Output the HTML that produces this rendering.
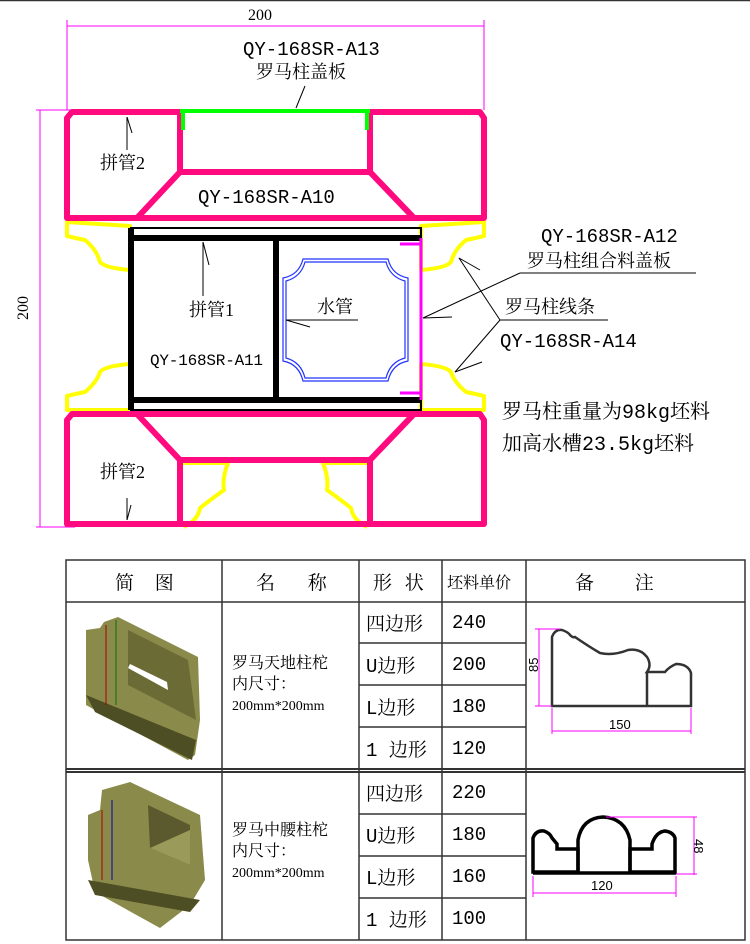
<!DOCTYPE html>
<html><head><meta charset="utf-8"><style>
html,body{margin:0;padding:0;background:#fff;}
svg{display:block;}
text{font-family:"Liberation Serif","Noto Serif CJK SC","Noto Sans CJK SC",serif;fill:#000;}
.m{font-family:"Liberation Mono","Noto Serif CJK SC",monospace;}
</style></head><body>
<svg width="750" height="944" viewBox="0 0 750 944" xmlns="http://www.w3.org/2000/svg">
<line x1="0" y1="0.5" x2="750" y2="0.5" stroke="#333" stroke-width="1.5"/>
<g stroke="#f0f" stroke-width="1" fill="none">
<line x1="67" y1="26" x2="484" y2="26"/>
<line x1="67" y1="20" x2="67" y2="110"/>
<line x1="484" y1="20" x2="484" y2="110"/>
<line x1="40" y1="110" x2="40" y2="527"/>
<line x1="36" y1="110" x2="75" y2="110"/>
<line x1="36" y1="527" x2="75" y2="527"/>
</g>
<text x="248" y="20" font-size="16">200</text>
<text x="28" y="320" font-size="16" transform="rotate(-90 28 320)">200</text>
<text x="243" y="55" font-size="19" class="m">QY-168SR-A13</text>
<text x="256" y="78" font-size="18">罗马柱盖板</text>
<line x1="305" y1="86" x2="296" y2="108" stroke="#000" stroke-width="1"/>
<g stroke="#ff0" stroke-width="4" fill="none" stroke-linejoin="round">
<path d="M67 222 L67 236 Q75 238 85 240 Q97 250 100 262 Q105 268 130 270 L130 226 Z"/>
<path d="M67 410 L67 396 Q75 394 85 392 Q97 382 100 372 Q105 366 130 364 L130 410 Z"/>
<path d="M484 222 L484 236 Q476 238 466 240 Q454 250 451 262 Q446 268 421 270 L421 226 Z"/>
<path d="M484 410 L484 396 Q476 394 466 392 Q454 382 451 372 Q446 366 421 364 L421 410 Z"/>
<path d="M183 463 L228 463 Q222 478 224 490 Q210 500 200 508 Q198 520 184 527"/>
<path d="M368 463 L323 463 Q329 478 327 490 Q341 500 351 508 Q353 520 367 527"/>
</g>
<g stroke="#ff0a7f" stroke-width="6" fill="none" stroke-linejoin="round">
<path d="M72 112 L480 112 L484 118 L484 218 L67 218 L67 118 Z"/>
<path d="M180 112 L180 172 L370 172 L370 112"/>
<path d="M180 172 L137 218 M370 172 L414 218"/>
<path d="M72 414 L480 414 L484 420 L484 524 L67 524 L67 420 Z"/>
<path d="M180 524 L180 460 L370 460 L370 524"/>
<path d="M180 460 L137 414 M370 460 L414 414"/>
</g>
<rect x="183" y="113" width="184" height="56" fill="#fff"/>
<path d="M180 111 L370 111 M183 111 L183 130 M367 111 L367 130" stroke="#00ff00" stroke-width="4" fill="none"/>
<g stroke="#000" fill="none">
<rect x="131" y="228" width="290" height="182" stroke-width="2"/>
<line x1="131" y1="238" x2="421" y2="238" stroke-width="6"/>
<line x1="131" y1="400" x2="421" y2="400" stroke-width="6"/>
<line x1="131" y1="228" x2="131" y2="410" stroke-width="6"/>
<line x1="276" y1="238" x2="276" y2="400" stroke-width="6"/>
</g>
<line x1="421" y1="238" x2="421" y2="400" stroke="#f0f" stroke-width="3"/>
<line x1="400" y1="244" x2="421" y2="244" stroke="#f0f" stroke-width="3"/>
<line x1="400" y1="393" x2="421" y2="393" stroke="#f0f" stroke-width="3"/>
<g stroke="#23f" fill="none" stroke-width="1.2">
<path d="M303 259 L388 259 Q392 275 408 278 L408 361 Q392 364 388 381 L303 381 Q299 364 283 361 L283 278 Q299 275 303 259 Z"/>
<path d="M305 262 L386 262 Q390 277 405 281 L405 358 Q390 362 386 378 L305 378 Q301 362 286 358 L286 281 Q301 277 305 262 Z"/>
</g>
<g stroke="#000" stroke-width="1" fill="none">
<line x1="127" y1="117" x2="127" y2="150"/><line x1="127" y1="117" x2="132" y2="133"/>
<line x1="127" y1="498" x2="127" y2="520"/><line x1="127" y1="520" x2="131" y2="505"/>
<line x1="203" y1="242" x2="203" y2="296"/><line x1="203" y1="242" x2="209" y2="265"/>
<line x1="286" y1="320" x2="358" y2="320"/><line x1="286" y1="320" x2="310" y2="327"/>
<line x1="423" y1="318" x2="452" y2="317"/>
<line x1="423" y1="318" x2="520" y2="273"/><line x1="520" y1="273" x2="696" y2="273"/>
<line x1="500" y1="320" x2="608" y2="320"/>
<line x1="500" y1="320" x2="459" y2="258"/><line x1="459" y1="258" x2="480" y2="270"/>
<line x1="500" y1="320" x2="455" y2="372"/><line x1="455" y1="372" x2="482" y2="362"/>
</g>
<text x="100" y="169" font-size="18">拼管2</text>
<text x="100" y="478" font-size="18">拼管2</text>
<text x="198" y="203" font-size="19" class="m">QY-168SR-A10</text>
<text x="189" y="316" font-size="18">拼管1</text>
<text x="150" y="365" font-size="16" class="m" textLength="113">QY-168SR-A11</text>
<text x="317" y="313" font-size="18">水管</text>
<text x="541" y="242" font-size="19" class="m">QY-168SR-A12</text>
<text x="527" y="267" font-size="18">罗马柱组合料盖板</text>
<text x="505" y="313" font-size="18">罗马柱线条</text>
<text x="500" y="347" font-size="19" class="m">QY-168SR-A14</text>
<text x="502" y="418" font-size="20">罗马柱重量为<tspan class="m">98kg</tspan>坯料</text>
<text x="502" y="450" font-size="20">加高水槽<tspan class="m">23.5kg</tspan>坯料</text>
<g stroke="#333" stroke-width="1.5" fill="none">
<rect x="66" y="560" width="679" height="380"/>
<line x1="66" y1="602" x2="745" y2="602"/>
<line x1="66" y1="769" x2="745" y2="769" stroke-width="2"/>
<line x1="66" y1="772" x2="745" y2="772" stroke-width="2"/>
<line x1="222" y1="560" x2="222" y2="940"/>
<line x1="359" y1="560" x2="359" y2="940"/>
<line x1="442" y1="560" x2="442" y2="940"/>
<line x1="526" y1="560" x2="526" y2="940"/>
<line x1="359" y1="643" x2="526" y2="643"/>
<line x1="359" y1="685" x2="526" y2="685"/>
<line x1="359" y1="727" x2="526" y2="727"/>
<line x1="359" y1="814" x2="526" y2="814"/>
<line x1="359" y1="856" x2="526" y2="856"/>
<line x1="359" y1="898" x2="526" y2="898"/>
</g>
<g font-size="19">
<text x="115" y="589" letter-spacing="8">简 图</text>
<text x="256" y="589" letter-spacing="14">名 称</text>
<text x="373" y="589" letter-spacing="4">形 状</text>
<text x="447" y="588" font-size="16">坯料单价</text>
<text x="575" y="589" letter-spacing="18">备 注</text>
<text x="366" y="630">四边形</text><text x="452" y="628" class="m">240</text>
<text x="366" y="672"><tspan class="m">U</tspan>边形</text><text x="452" y="670" class="m">200</text>
<text x="366" y="714"><tspan class="m">L</tspan>边形</text><text x="452" y="712" class="m">180</text>
<text x="366" y="756"><tspan class="m">1 </tspan>边形</text><text x="452" y="754" class="m">120</text>
<text x="366" y="800">四边形</text><text x="452" y="798" class="m">220</text>
<text x="366" y="842"><tspan class="m">U</tspan>边形</text><text x="452" y="840" class="m">180</text>
<text x="366" y="884"><tspan class="m">L</tspan>边形</text><text x="452" y="882" class="m">160</text>
<text x="366" y="926"><tspan class="m">1 </tspan>边形</text><text x="452" y="924" class="m">100</text>
</g>
<g font-size="16">
<text x="232" y="668">罗马天地柱柁</text><text x="232" y="689">内尺寸：</text><text x="232" y="710" font-size="14">200mm*200mm</text>
<text x="232" y="835">罗马中腰柱柁</text><text x="232" y="856">内尺寸：</text><text x="232" y="877" font-size="14">200mm*200mm</text>
</g>
<g>
<polygon points="86,630 100,628 104,622 118,617 198,657 200,720 195,755 188,760 95,710 86,705" fill="#8a8a4a"/>
<polygon points="128,630 188,660 196,720 128,685" fill="#6b6b35"/>
<polygon points="128,668 168,690 167,682 130,664" fill="#fff"/>
<polygon points="86,695 196,740 192,760 95,712" fill="#4e4e24"/>
<line x1="106" y1="625" x2="106" y2="705" stroke="#a00" stroke-width="1"/>
<line x1="116" y1="620" x2="116" y2="705" stroke="#070" stroke-width="1"/>
<polygon points="88,815 100,810 102,790 130,782 200,815 205,880 190,905 160,928 95,892 88,860" fill="#8a8a4a"/>
<polygon points="148,805 190,825 190,865 150,848" fill="#5a5a2e"/>
<polygon points="150,848 190,865 190,830" fill="#9a9a5a"/>
<polygon points="88,880 200,900 190,912 95,895" fill="#4e4e24"/>
<line x1="102" y1="810" x2="102" y2="880" stroke="#a00" stroke-width="1"/>
<line x1="112" y1="800" x2="112" y2="880" stroke="#00a" stroke-width="1"/>
</g>
<g fill="none" stroke="#333" stroke-width="2.5">
<path d="M552 706 L552 637 Q555 629 562 630 Q568 632 570 635 Q573 638 575 637 Q588 646 600 653 Q613 656 628 650 Q640 648 647 657 Q652 665 647 672 L665 672 Q669 667 676 664 Q688 664 691 673 L691 706 Z"/>
<path d="M647 672 L647 706"/>
</g>
<g fill="none" stroke="#000" stroke-width="3.5">
<path d="M533 872 L533 838 Q536 830 544 831 Q550 833 552 838 L557 844 L557 849 L578 849 L578 872 Z"/>
<path d="M578 872 L578 840 Q582 818 603 817 Q625 818 630 840 L630 872"/>
<path d="M630 872 L630 849 L652 849 L652 844 Q656 832 665 831 Q673 832 675 838 L675 872 Z"/>
<line x1="533" y1="873" x2="676" y2="873"/>
</g>
<g stroke="#f0f" stroke-width="1" fill="none">
<line x1="539" y1="629" x2="539" y2="706"/><line x1="535" y1="629" x2="560" y2="629"/><line x1="535" y1="706" x2="552" y2="706"/>
<line x1="552" y1="708" x2="552" y2="734"/><line x1="691" y1="708" x2="691" y2="734"/><line x1="552" y1="731" x2="691" y2="731"/>
<line x1="694" y1="817" x2="694" y2="875"/><line x1="606" y1="817" x2="697" y2="817"/><line x1="676" y1="874" x2="697" y2="874"/>
<line x1="533" y1="876" x2="533" y2="897"/><line x1="676" y1="876" x2="676" y2="897"/><line x1="533" y1="893" x2="676" y2="893"/>
</g>
<text x="538" y="672" font-size="13" transform="rotate(-90 538 672)" style="font-family:'Liberation Sans',sans-serif">85</text>
<text x="609" y="729" font-size="13" style="font-family:'Liberation Sans',sans-serif">150</text>
<text x="694" y="839" font-size="13" transform="rotate(90 694 839)" style="font-family:'Liberation Sans',sans-serif">48</text>
<text x="591" y="890" font-size="13" style="font-family:'Liberation Sans',sans-serif">120</text>
</svg>
</body></html>
